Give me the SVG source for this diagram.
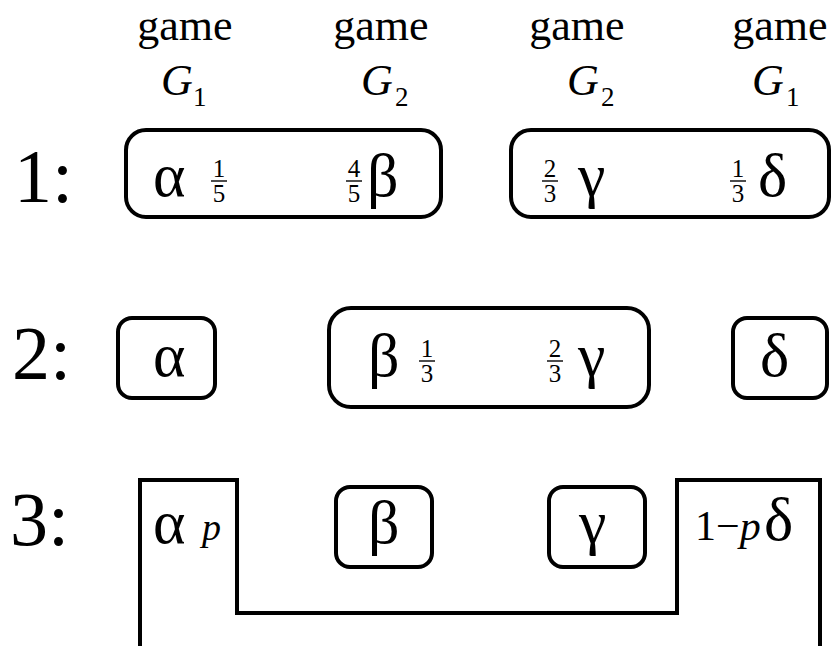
<svg xmlns="http://www.w3.org/2000/svg" width="833" height="646" viewBox="0 0 833 646">
<style>
text{font-family:"Liberation Serif","Times New Roman",serif;fill:#000}
.lbl{font-size:76px}
.game{font-size:44px;text-anchor:middle}
.G{font-size:44px;font-style:italic}
.sub{font-size:27px}
.gr{font-size:62px}
.fr{font-size:25px;text-anchor:middle}
.box{fill:none;stroke:#000;stroke-width:4}
.bar{stroke:#000;stroke-width:1.4}
.it{font-style:italic}
</style>
<rect width="833" height="646" fill="#fff"/>
<g id="headers">
<text class="game" x="185" y="40">game</text>
<text class="game" x="381" y="40">game</text>
<text class="game" x="577" y="40">game</text>
<text class="game" x="780" y="40">game</text>
<text class="G" x="161" y="95">G</text><text class="sub" x="193" y="106">1</text>
<text class="G" x="361" y="95">G</text><text class="sub" x="395" y="106">2</text>
<text class="G" x="567" y="95">G</text><text class="sub" x="601" y="106">2</text>
<text class="G" x="752" y="95">G</text><text class="sub" x="786" y="106">1</text>
</g>
<g id="row-labels">
<text class="lbl" x="14" y="202">1:</text>
<text class="lbl" x="12" y="379">2:</text>
<text class="lbl" x="10" y="545">3:</text>
</g>
<g id="row1-ab">
<rect class="box" x="126" y="130" width="315" height="87" rx="20"/>
<text class="gr" x="153" y="196">α</text>
<text class="fr" x="219" y="177">1</text><line class="bar" x1="211" y1="181" x2="227" y2="181"/><text class="fr" x="219" y="202">5</text>
<text class="fr" x="354" y="177">4</text><line class="bar" x1="346" y1="181" x2="362" y2="181"/><text class="fr" x="354" y="202">5</text>
<text class="gr" x="367" y="196">β</text>
</g>
<g id="row1-gd">
<rect class="box" x="511" y="130" width="318" height="87" rx="20"/>
<text class="fr" x="550" y="177">2</text><line class="bar" x1="542" y1="181" x2="558" y2="181"/><text class="fr" x="550" y="202">3</text>
<text class="gr" x="578" y="196">γ</text>
<text class="fr" x="738" y="177">1</text><line class="bar" x1="730" y1="181" x2="746" y2="181"/><text class="fr" x="738" y="202">3</text>
<text class="gr" x="758" y="196">δ</text>
</g>
<g id="row2-a">
<rect class="box" x="118" y="318" width="97" height="80" rx="14"/>
<text class="gr" x="153" y="376">α</text>
</g>
<g id="row2-bg">
<rect class="box" x="329" y="308" width="320" height="99" rx="22"/>
<text class="gr" x="368" y="376">β</text>
<text class="fr" x="427" y="357">1</text><line class="bar" x1="419" y1="361" x2="435" y2="361"/><text class="fr" x="427" y="382">3</text>
<text class="fr" x="555" y="357">2</text><line class="bar" x1="547" y1="361" x2="563" y2="361"/><text class="fr" x="555" y="382">3</text>
<text class="gr" x="578" y="376">γ</text>
</g>
<g id="row2-d">
<rect class="box" x="733" y="318" width="94" height="80" rx="14"/>
<text class="gr" x="760" y="376">δ</text>
</g>
<g id="row3-outline">
<path class="box" d="M140,646 V480 H237 V613 H677 V480 H820 V646"/>
<text class="gr" x="153" y="543">α</text>
<text class="it" x="202" y="540" font-size="38">p</text>
<text x="695" y="540" font-size="42">1−<tspan class="it">p</tspan></text>
<text class="gr" x="764" y="540">δ</text>
</g>
<g id="row3-b">
<rect class="box" x="336" y="487" width="96" height="80" rx="14"/>
<text class="gr" x="368" y="543">β</text>
</g>
<g id="row3-g">
<rect class="box" x="549" y="487" width="96" height="80" rx="14"/>
<text class="gr" x="579" y="543">γ</text>
</g>
<g id="connectors"></g>
</svg>
